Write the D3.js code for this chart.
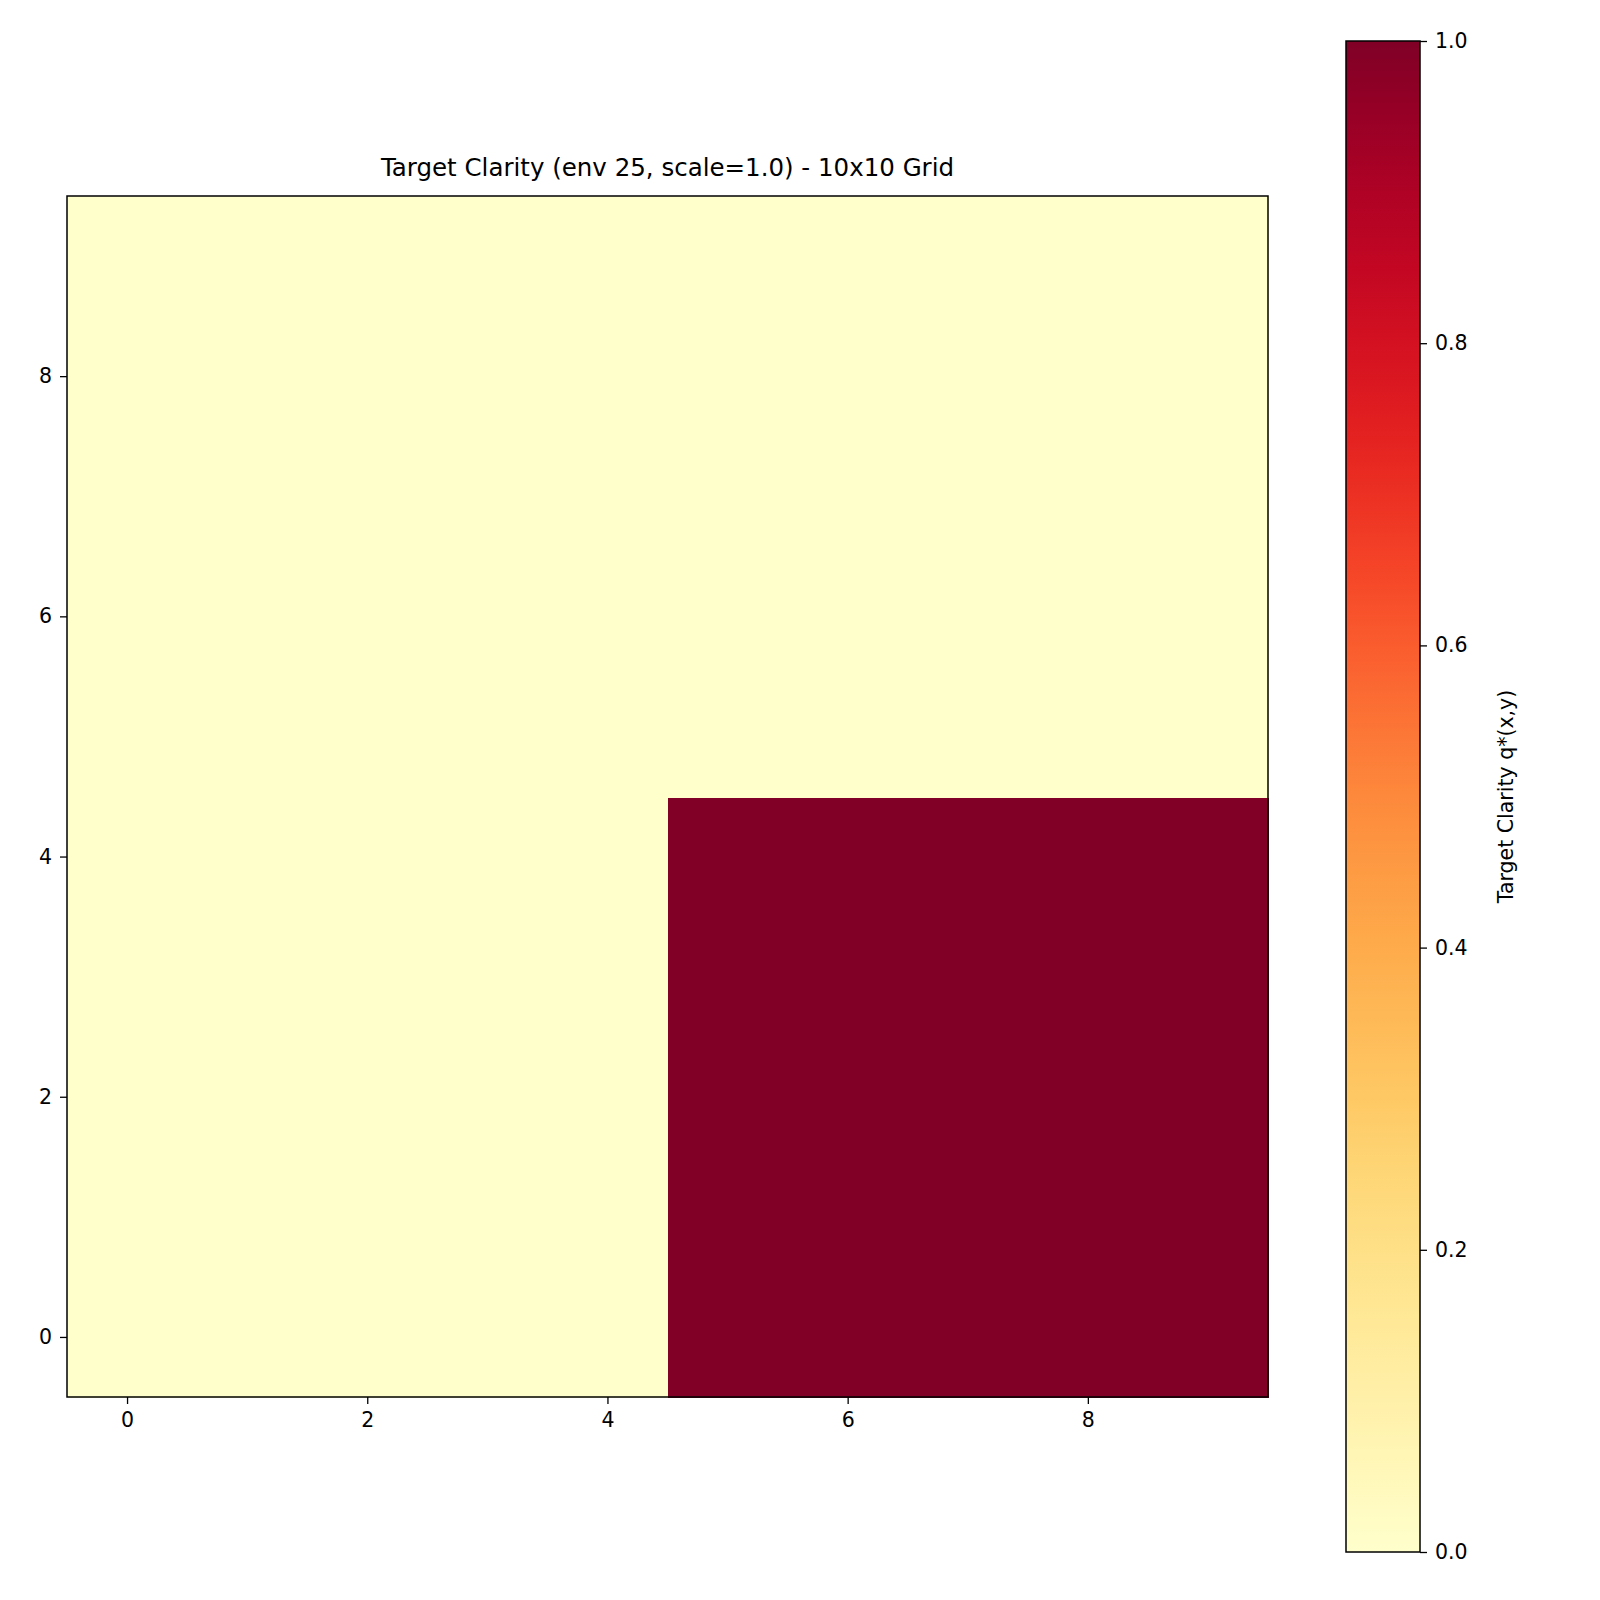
<!DOCTYPE html>
<html><head><meta charset="utf-8">
<script src="https://cdn.jsdelivr.net/npm/d3@7"></script>
<style>body{margin:0;background:#fff}text{font-family:"DejaVu Sans",sans-serif}</style>
</head><body>
<svg id="chart" width="1600" height="1600"></svg>
<script>
// grid values, rows = y from 0 to 9, cols = x from 0 to 9
const gridRows = [
  [0,0,0,0,0,1,1,1,1,1],
  [0,0,0,0,0,1,1,1,1,1],
  [0,0,0,0,0,1,1,1,1,1],
  [0,0,0,0,0,1,1,1,1,1],
  [0,0,0,0,0,1,1,1,1,1],
  [0,0,0,0,0,0,0,0,0,0],
  [0,0,0,0,0,0,0,0,0,0],
  [0,0,0,0,0,0,0,0,0,0],
  [0,0,0,0,0,0,0,0,0,0],
  [0,0,0,0,0,0,0,0,0,0]
];
const axisTicks = [0, 2, 4, 6, 8];
const cbarTicks = [0, 0.2, 0.4, 0.6, 0.8, 1.0];
const titleText = "Target Clarity (env 25, scale=1.0) - 10x10 Grid";
const cbarLabel = "Target Clarity q*(x,y)";

const svg = d3.select("#chart");
const L = 67, R = 1268, T = 196, B = 1397;
const x = d3.scaleLinear().domain([-0.5, 9.5]).range([L, R]);
const y = d3.scaleLinear().domain([-0.5, 9.5]).range([B, T]);
const color = v => d3.interpolateYlOrRd(v);

const cells = [];
gridRows.forEach((row, j) => row.forEach((v, i) => cells.push({i, j, v})));
svg.append("g").attr("shape-rendering", "crispEdges").selectAll("rect").data(cells).join("rect")
  .attr("x", d => x(d.i - 0.5)).attr("y", d => y(d.j + 0.5))
  .attr("width", x(1) - x(0) + 1).attr("height", y(0) - y(1) + 1)
  .attr("fill", d => color(d.v));
svg.append("rect").attr("x", L).attr("y", T).attr("width", R - L).attr("height", B - T)
  .attr("fill", "none").attr("stroke", "#000").attr("stroke-width", 1.5);

const styleAxis = g => {
  g.select(".domain").remove();
  g.selectAll("line").attr("stroke-width", 1.3);
  g.selectAll("text").style("font-size", "20.5px").attr("fill", "#000");
};
svg.append("g").attr("transform", `translate(0,${B})`)
  .call(d3.axisBottom(x).tickValues(axisTicks).tickSize(7).tickPadding(8)).call(styleAxis);
svg.append("g").attr("transform", `translate(${L},0)`)
  .call(d3.axisLeft(y).tickValues(axisTicks).tickSize(7).tickPadding(8)).call(styleAxis);

svg.append("text").attr("x", (L + R) / 2).attr("y", 176).attr("text-anchor", "middle")
  .style("font-size", "24.5px").text(titleText);

// colorbar
const cL = 1346, cR = 1420, cT = 41, cB = 1552;
const cy = d3.scaleLinear().domain([0, 1]).range([cB, cT]);
const grad = svg.append("defs").append("linearGradient").attr("id", "cb")
  .attr("x1", 0).attr("y1", 1).attr("x2", 0).attr("y2", 0);
d3.range(0, 1.0001, 0.05).forEach(t => grad.append("stop").attr("offset", t).attr("stop-color", color(t)));
svg.append("rect").attr("x", cL).attr("y", cT).attr("width", cR - cL).attr("height", cB - cT)
  .attr("fill", "url(#cb)").attr("stroke", "#000").attr("stroke-width", 1.5);
svg.append("g").attr("transform", `translate(${cR},0)`)
  .call(d3.axisRight(cy).tickValues(cbarTicks).tickFormat(d3.format(".1f")).tickSize(7).tickPadding(8))
  .call(styleAxis);
svg.append("text").attr("transform", `translate(1513,${(cT + cB) / 2}) rotate(-90)`)
  .attr("text-anchor", "middle").style("font-size", "20.5px").text(cbarLabel);
</script>
</body></html>
